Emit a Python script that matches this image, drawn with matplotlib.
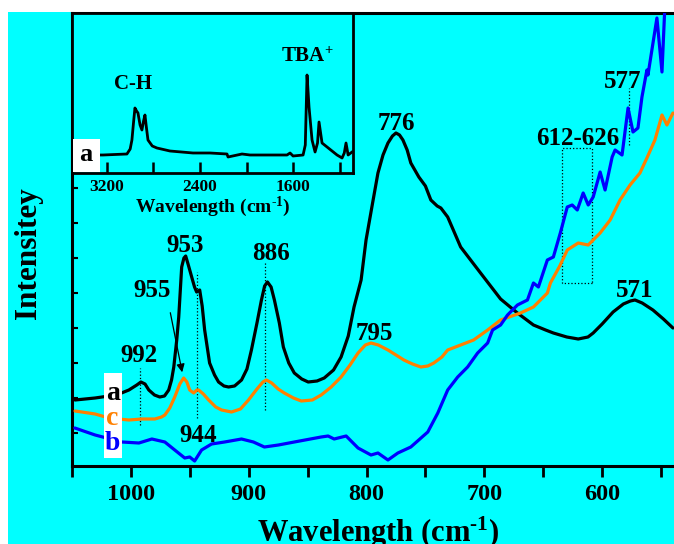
import numpy as np
import matplotlib
matplotlib.use("Agg")
import matplotlib.pyplot as plt
from matplotlib.patches import Rectangle

plt.rcParams['font.family'] = ['Liberation Serif', 'DejaVu Serif']
plt.rcParams['font.weight'] = 'bold'
plt.rcParams['mathtext.fontset'] = 'custom'
plt.rcParams['mathtext.rm'] = 'Liberation Serif:bold'
plt.rcParams['mathtext.it'] = 'Liberation Serif:bold'
plt.rcParams['mathtext.bf'] = 'Liberation Serif:bold'
plt.rcParams['mathtext.default'] = 'rm'

CYAN = '#00FFFF'
ORANGE = '#FF8000'
BLUE = '#0000FF'

# ---- main spectra (wavenumber cm-1, intensity a.u.) ----
wn_a = [1047.4, 1030.4, 1018.6, 1008.0, 1001.7, 995.0, 991.5, 988.0, 984.8, 980.0,
        975.5, 971.5, 967.9, 965.5, 963.6, 961.1, 959.4, 956.9, 955.0, 953.5,
        951.5, 948.4, 946.0, 944.2, 941.6, 939.5, 937.4, 933.2, 929.0, 925.6,
        921.0, 917.1, 912.0, 906.1, 901.5, 897.7, 893.0, 889.2, 886.5, 884.1,
        881.0, 878.2, 874.0, 870.6, 866.0, 861.3, 855.0, 849.5, 842.0, 835.9,
        828.0, 821.6, 815.5, 810.6, 804.6, 800.4, 795.0, 790.3, 786.0, 781.8,
        778.0, 775.0, 772.0, 769.1, 765.5, 762.4, 755.6, 750.0, 745.4, 740.0,
        736.9, 731.1, 720.1, 703.2, 686.2, 671.9, 658.3, 648.0, 641.4, 630.0,
        620.3, 612.0, 607.6, 600.0, 590.7, 582.0, 576.0, 572.1, 566.0, 556.9,
        548.0, 539.9]
int_a = [66, 68, 70, 73, 76, 81, 84, 82, 76, 71,
         69, 70, 76, 86, 99, 126, 149, 199, 208, 210,
         202, 189, 179, 174, 176, 160, 136, 103, 91, 84,
         80, 79, 80, 86, 97, 116, 143, 166, 180, 184,
         179, 166, 143, 119, 103, 93, 87, 84, 85, 88,
         96, 109, 130, 159, 186, 226, 262, 293, 311, 323,
         330, 333, 331, 326, 316, 303, 289, 280, 266, 260,
         258, 249, 219, 193, 167, 153, 141, 136, 133, 129,
         127, 129, 133, 142, 154, 162, 165, 166, 163, 156,
         147, 138]

wn_c = [1047.4, 1030.4, 1018.6, 1001.7, 990.7, 979.7, 974.0, 971.2, 967.0, 962.8,
        958.5, 955.2, 952.5, 950.1, 946.7, 944.0, 942.5, 938.5, 934.0, 928.0,
        923.0, 914.6, 907.0, 900.2, 893.0, 888.0, 885.0, 880.5, 875.0, 869.8,
        862.0, 855.4, 846.0, 838.5, 830.0, 821.6, 814.0, 807.2, 801.0, 796.2,
        790.0, 781.8, 775.0, 768.3, 761.0, 753.9, 748.0, 742.9, 736.0, 731.1,
        720.1, 709.1, 697.2, 686.2, 669.3, 658.3, 646.5, 643.9, 636.0, 629.6,
        620.3, 611.8, 601.7, 593.2, 584.8, 576.3, 567.9, 562.0, 555.2, 549.2,
        545.0, 539.9]
int_c = [55, 52, 48, 46, 47, 47, 49, 51, 58, 69,
         82, 88, 84, 76, 73, 76, 76, 72, 66, 59,
         56, 54, 57, 66, 77, 84, 86, 83, 77, 73,
         68, 65, 66, 71, 79, 89, 101, 113, 121, 123,
         121, 116, 111, 106, 102, 99, 100, 103, 109, 116,
         121, 126, 136, 146, 153, 159, 173, 183, 200, 216,
         223, 221, 233, 246, 266, 281, 293, 308, 326, 351,
         341, 353]

wn_b = [1047.6, 1030.4, 1007.6, 993.2, 982.2, 971.2, 962.8, 954.3, 950.1, 945.9,
        940.0, 931.5, 920.5, 906.1, 896.0, 886.7, 874.8, 861.3, 838.5, 832.6,
        827.5, 817.3, 807.2, 796.2, 790.3, 781.8, 773.4, 762.4, 748.0, 739.5,
        731.1, 722.6, 714.2, 705.7, 697.2, 693.0, 686.2, 680.3, 671.9, 663.4,
        658.3, 654.1, 646.5, 641.4, 635.5, 629.6, 625.4, 621.1, 616.1, 611.8,
        607.6, 601.7, 597.5, 591.5, 589.0, 583.1, 578.0, 573.8, 569.6, 566.2,
        562.0, 561.1, 553.5, 549.2, 546.0]
int_b = [38, 31, 24, 23, 27, 24, 16, 8, 9, 5,
         16, 22, 24, 27, 24, 19, 21, 24, 29, 30,
         27, 30, 18, 11, 13, 6, 13, 19, 34, 53,
         76, 89, 99, 113, 123, 136, 141, 151, 161, 166,
         183, 179, 206, 209, 233, 259, 261, 256, 273, 261,
         269, 294, 276, 309, 316, 311, 358, 334, 338, 369,
         396, 391, 448, 394, 480]

# ---- inset spectrum ----
wn_in = [3500, 3234, 3028, 3000, 2985, 2970, 2959, 2945, 2933, 2915, 2899, 2885, 2873,
         2860, 2847, 2810, 2770, 2658, 2460, 2314, 2168, 2159, 2039, 1970, 1652, 1626,
         1600, 1514, 1495, 1480, 1463, 1437, 1411, 1390, 1377, 1351, 1308, 1222, 1179,
         1160, 1145, 1127, 1093]
int_in = [18, 18, 19, 24, 33, 52, 65, 62, 60, 48, 43, 52, 58,
          45, 33, 27, 25, 22, 20, 20, 19, 16, 19, 18, 18, 20,
          17, 18, 28, 98, 66, 33, 21, 30, 51, 30, 26, 18, 15,
          20, 30, 18, 21]

main_xticks = [1000, 900, 800, 700, 600]
inset_xticks = [3200, 2800, 2400, 2000, 1600, 1200]
inset_xticklabels = ['3200', '', '2400', '', '1600', '']

peak_labels = ['992', '955', '953', '944', '886', '776', '795', '612-626', '577', '571']
peak_label_x = [993, 982, 954, 942.5, 881, 775, 793, 621, 583, 572]
peak_label_y = [104, 169, 214, 24, 206, 336, 126, 321, 378, 169]

fig = plt.figure(figsize=(6.74, 5.44), dpi=100)
fig.patch.set_facecolor(CYAN)
fig.patches.append(Rectangle((0, 1 - 12 / 544), 1, 12 / 544, transform=fig.transFigure,
                             facecolor='white', edgecolor='none', zorder=-1))
fig.patches.append(Rectangle((0, 0), 8 / 674, 1, transform=fig.transFigure,
                             facecolor='white', edgecolor='none', zorder=-1))

ax = fig.add_axes([72 / 674, 1 - 466 / 544, 1 - 72 / 674, (466 - 13) / 544])
ax.set_facecolor(CYAN)
kw = dict(lw=2.3, solid_joinstyle='round', solid_capstyle='round', zorder=3)
ax.plot(wn_a, int_a, color='black', **kw)
ax.plot(wn_c, int_c, color=ORANGE, **kw)
ax.plot(wn_b, int_b, color=BLUE, **kw)
ax.set_xlim(1048, 539)
ax.set_ylim(0, 453)

ax.set_xticks(main_xticks)
ax.set_xticks(np.arange(1050, 539, -50), minor=True)
ax.tick_params(axis='x', which='both', direction='out', length=8, width=2,
               labelsize=17.5, pad=5, top=False)
ax.set_yticks(453 - 35 * np.arange(1, 13))
ax.tick_params(axis='y', which='both', direction='in', length=4, width=1.5,
               labelleft=False)
for lab in ax.get_xticklabels():
    lab.set_fontweight('bold')
ax.spines['right'].set_visible(False)
for s in ['left', 'bottom', 'top']:
    ax.spines[s].set_linewidth(2.2)

ax.set_xlabel(r'Wavelength (cm$^{\text{-1}}$)', fontsize=22, fontweight='bold')
ax.xaxis.set_label_coords(0.508, -0.108)
ax.set_ylabel('Intensitey', fontsize=22.5, fontweight='bold')
ax.yaxis.set_label_coords(-0.048, 0.47)

# dotted markers
vl_x = [992, 944, 886, 577]
vl_y0 = [41, 48, 56, 321]
vl_y1 = [98, 194, 203, 378]
for xv, y0, y1 in zip(vl_x, vl_y0, vl_y1):
    ax.plot([xv, xv], [y0, y1], color='black', lw=0.9, ls=':', zorder=2)
ax.add_patch(Rectangle((608.5, 183), 25.4, 135, fill=False, edgecolor='black',
                       lw=0.9, ls=':', zorder=2))

for t, xx, yy in zip(peak_labels, peak_label_x, peak_label_y):
    ax.text(xx, yy, t, fontsize=18, fontweight='bold', ha='center', va='baseline',
            zorder=5)

ax.annotate('', xy=(956.0, 91), xytext=(967.0, 156),
            arrowprops=dict(arrowstyle='-|>', color='black', lw=0.9,
                            mutation_scale=12), zorder=5)

# curve letters
ax.add_patch(Rectangle((1007.6, 8), 15.2, 85, facecolor='white', edgecolor='none',
                       zorder=4))
ax.text(1015.5, 66, 'a', color='black', fontsize=20, fontweight='bold',
        ha='center', va='baseline', zorder=5)
ax.text(1015.5, 41, 'c', color=ORANGE, fontsize=20, fontweight='bold',
        ha='center', va='baseline', zorder=5)
ax.text(1015.5, 16, 'b', color=BLUE, fontsize=20, fontweight='bold',
        ha='center', va='baseline', zorder=5)

# ---- inset ----
axi = fig.add_axes([72 / 674, 1 - 173 / 544, (353 - 72) / 674, (173 - 13) / 544])
axi.set_facecolor(CYAN)
axi.plot(wn_in, int_in, color='black', lw=2.0, solid_joinstyle='round', zorder=3)
axi.set_xlim(3500, 1085)
axi.set_ylim(0, 160)
axi.set_xticks(inset_xticks)
axi.set_xticklabels(inset_xticklabels)
axi.tick_params(axis='x', direction='in', length=8, width=1.8, labelsize=12.5, pad=4)
axi.set_yticks([])
for s in axi.spines.values():
    s.set_linewidth(2.0)
for lab in axi.get_xticklabels():
    lab.set_fontweight('bold')
axi.set_xlabel(r'Wavelength (cm$^{\text{-1}}$)', fontsize=14, fontweight='bold',
               labelpad=0)
axi.text(2976, 84, 'C-H', fontsize=15, fontweight='bold', ha='center', va='baseline')
axi.text(1480, 111, 'TBA$^{+}$', fontsize=15, fontweight='bold', ha='center',
         va='baseline')
axi.add_patch(Rectangle((3260, 1), 235, 33, facecolor='white', edgecolor='none',
                        zorder=4))
axi.text(3378, 12, 'a', fontsize=19, fontweight='bold', ha='center', va='baseline',
         zorder=5)

fig.savefig('out.png', dpi=100, facecolor=fig.get_facecolor())
